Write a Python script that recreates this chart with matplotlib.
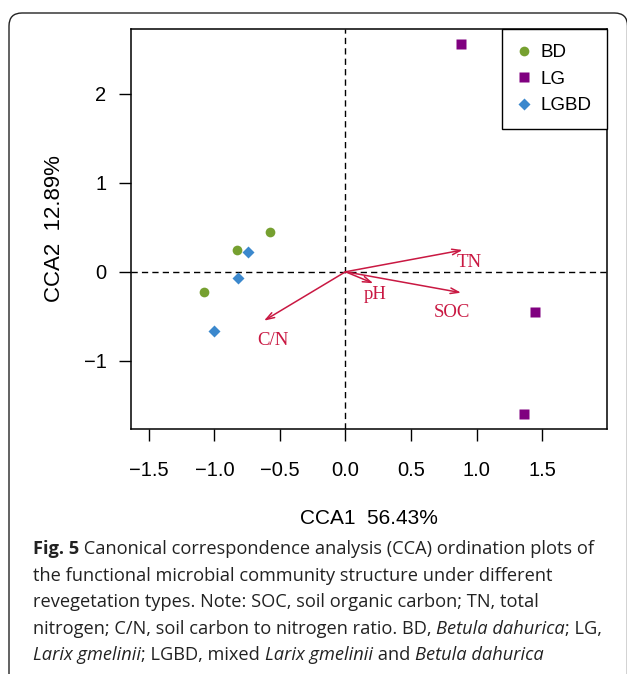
import matplotlib
matplotlib.use("Agg")
import matplotlib.pyplot as plt
from matplotlib.patches import FancyBboxPatch
from matplotlib.font_manager import FontProperties
from matplotlib.transforms import IdentityTransform

# site scores (CCA1, CCA2)
bd_x = [-0.576, -0.831, -1.078]
bd_y = [0.444, 0.249, -0.224]
lg_x = [0.879, 1.444, 1.360]
lg_y = [2.562, -0.456, -1.603]
lgbd_x = [-0.747, -0.823, -1.002]
lgbd_y = [0.219, -0.066, -0.663]

# environmental vectors
env_names = ["TN", "SOC", "pH", "C/N"]
env_x = [0.894, 0.882, 0.212, -0.622]
env_y = [0.245, -0.235, -0.129, -0.550]
env_lab_x = [0.945, 0.813, 0.225, -0.551]
env_lab_y = [0.107, -0.456, -0.258, -0.775]

x_ticks = [-1.5, -1.0, -0.5, 0.0, 0.5, 1.0, 1.5]
y_ticks = [-1, 0, 1, 2]
x_label = "CCA1  56.43%"
y_label = "CCA2  12.89%"

caption_lines = [
    [("Fig. 5", "bold"), (" Canonical correspondence analysis (CCA) ordination plots of", "normal")],
    [("the functional microbial community structure under different", "normal")],
    [("revegetation types. Note: SOC, soil organic carbon; TN, total", "normal")],
    [("nitrogen; C/N, soil carbon to nitrogen ratio. BD, ", "normal"), ("Betula dahurica", "italic"),
     ("; LG,", "normal")],
    [("Larix gmelinii", "italic"), ("; LGBD, mixed ", "normal"), ("Larix gmelinii", "italic"),
     (" and ", "normal"), ("Betula dahurica", "italic")],
]

W, H = 627, 674
plt.rcParams["font.family"] = ["Liberation Sans", "DejaVu Sans"]

fig = plt.figure(figsize=(W / 100, H / 100), dpi=100)

# rounded frame around the whole figure
frame = FancyBboxPatch((9, -20), 618.5, H - 13 + 20,
                       boxstyle="round,pad=0,rounding_size=13",
                       transform=IdentityTransform(), fill=False,
                       edgecolor="#222222", linewidth=1.0)
fig.patches.append(frame)

ax = fig.add_axes([131 / W, 1 - 428.7 / H, 476 / W, 399.7 / H])
ax.set_xlim(-1.637, 1.996)
ax.set_ylim(-1.765, 2.731)

ax.axhline(0, color="black", lw=1.0, ls=(0, (4.5, 3)), zorder=1)
ax.axvline(0, color="black", lw=1.0, ls=(0, (4.5, 3)), zorder=1)

ax.plot(bd_x, bd_y, "o", color="#76A030", ms=7, mec="none", label="BD", zorder=3)
ax.plot(lg_x, lg_y, "s", color="#800080", ms=6.5, mec="none", label="LG", zorder=3)
ax.plot(lgbd_x, lgbd_y, "D", color="#3B88CD", ms=6.2, mec="none", label="LGBD", zorder=3)

arrow_col = "#C91842"
for name, x, y, lx, ly in zip(env_names, env_x, env_y, env_lab_x, env_lab_y):
    ax.annotate("", xy=(x, y), xytext=(0, 0),
                arrowprops=dict(arrowstyle="->,head_length=0.6,head_width=0.2",
                                color=arrow_col, lw=1.1, shrinkA=0, shrinkB=0))
    ax.text(lx, ly, name, color=arrow_col, fontsize=13.5, ha="center", va="center",
            family=["Liberation Serif", "DejaVu Serif"])

ax.set_xticks(x_ticks)
ax.set_xticklabels([f"{v:.1f}".replace("-", "\u2212") for v in x_ticks])
ax.set_yticks(y_ticks)
ax.set_yticklabels([str(v).replace("-", "\u2212") for v in y_ticks])
ax.tick_params(length=8.6, width=1.0, labelsize=14.5, direction="out")
ax.tick_params(axis="x", pad=15)
ax.tick_params(axis="y", pad=9)
for s in ax.spines.values():
    s.set_linewidth(1.1)

ax.set_xlabel(x_label, fontsize=15)
ax.set_ylabel(y_label, fontsize=16)
ax.xaxis.set_label_coords(0.5, (428.7 - 519) / 399.7)
ax.xaxis.label.set_va("center")
ax.yaxis.set_label_coords((55 - 131) / 476, 0.5)
ax.yaxis.label.set_va("center")

leg = ax.legend(loc="upper right", borderaxespad=0, fontsize=13.5, frameon=True,
                fancybox=False, edgecolor="black", framealpha=1, handlelength=0.8,
                handletextpad=0.5, borderpad=0.8, labelspacing=0.5)
leg.get_frame().set_linewidth(1.0)

# caption with mixed bold / italic runs
fig.canvas.draw()
rend = fig.canvas.get_renderer()
cap_size = 13.15


def advance(s, fp):
    w1, _, _ = rend.get_text_width_height_descent("|" + s + "|", fp, ismath=False)
    w0, _, _ = rend.get_text_width_height_descent("||", fp, ismath=False)
    return w1 - w0


for i, line in enumerate(caption_lines):
    x = 33.0
    base = 554 + i * 26.6
    for text, style in line:
        fp = FontProperties(family="Open Sans", size=cap_size,
                            weight="bold" if style == "bold" else "normal",
                            style="italic" if style == "italic" else "normal")
        fig.text(x / W, 1 - base / H, text, fontproperties=fp, ha="left",
                 va="baseline", color="#222222")
        x += advance(text, fp) * 100 / fig.dpi

fig.savefig("out.png", dpi=100)
